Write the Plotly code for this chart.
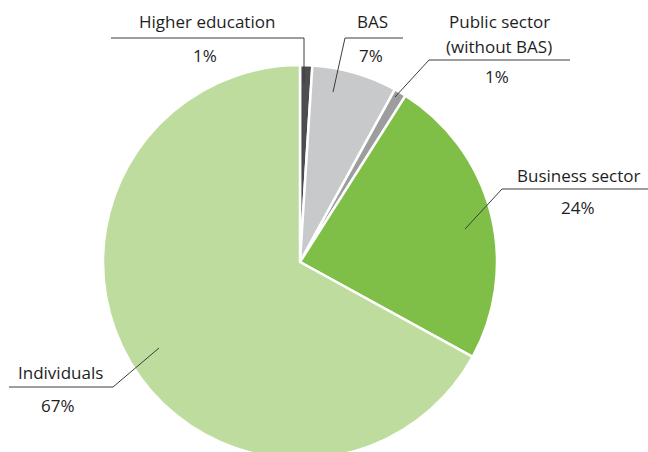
import plotly.graph_objects as go

# Shares of funding by source (percent)
sources = ["Higher education", "BAS", "Public sector<br>(without BAS)", "Business sector", "Individuals"]
shares = [1, 7, 1, 24, 67]
colors = ["#4d4d4f", "#c8c9cb", "#9d9d9f", "#80bf47", "#bfdc9f"]

W, H = 648, 470
CX, CY, R = 300, 262, 197  # pie centre and radius in pixels


def px(x):
    return x / W


def py(y):
    return 1 - y / H


fig = go.Figure(
    go.Pie(
        labels=sources,
        values=shares,
        sort=False,
        direction="clockwise",
        rotation=0,
        marker=dict(colors=colors, line=dict(color="white", width=2.5)),
        textinfo="none",
        hoverinfo="label+percent",
        showlegend=False,
        domain=dict(x=[px(CX - R), px(CX + R)], y=[py(CY + R), py(CY - R)]),
    )
)

# Leader lines (pixel points) and label anchors for each slice
leaders = [
    [(304, 83), (304, 38), (111, 38)],
    [(333, 92), (345, 38), (403, 38)],
    [(395, 97), (429, 60), (570, 60)],
    [(465, 229), (502, 189), (648, 189)],
    [(159, 348), (113, 387), (9, 387)],
]
# first-line centre of each name, with line step for wrapped names
name_pos = [(207, 22), (372, 22), (499, 21), (578, 175), (60, 372)]
line_step = 26
pct_pos = [(205, 55), (371, 56), (497, 77), (578, 207), (58, 405)]

shapes = []
for pts in leaders:
    path = "M " + " L ".join(f"{px(x)},{py(y)}" for x, y in pts)
    shapes.append(dict(type="path", xref="paper", yref="paper", path=path,
                       line=dict(color="#3c3c3c", width=1)))

font = dict(family="Open Sans", size=17, color="#1e1e1e")
annotations = []
for name, (nx, ny), (vx, vy), v in zip(sources, name_pos, pct_pos, shares):
    for i, part in enumerate(name.split("<br>")):
        annotations.append(dict(text=part, x=px(nx), y=py(ny + i * line_step),
                                xref="paper", yref="paper", showarrow=False, font=font,
                                xanchor="center", yanchor="middle"))
    annotations.append(dict(text=f"{v}%", x=px(vx), y=py(vy), xref="paper", yref="paper",
                            showarrow=False, font=font, xanchor="center", yanchor="middle"))

fig.update_layout(
    width=W,
    height=H,
    autosize=False,
    margin=dict(l=0, r=0, t=0, b=0),
    paper_bgcolor="white",
    plot_bgcolor="white",
    shapes=shapes,
    annotations=annotations,
)

fig.write_html("out.html", post_script="document.body.style.margin='0';document.body.style.overflow='hidden';")
